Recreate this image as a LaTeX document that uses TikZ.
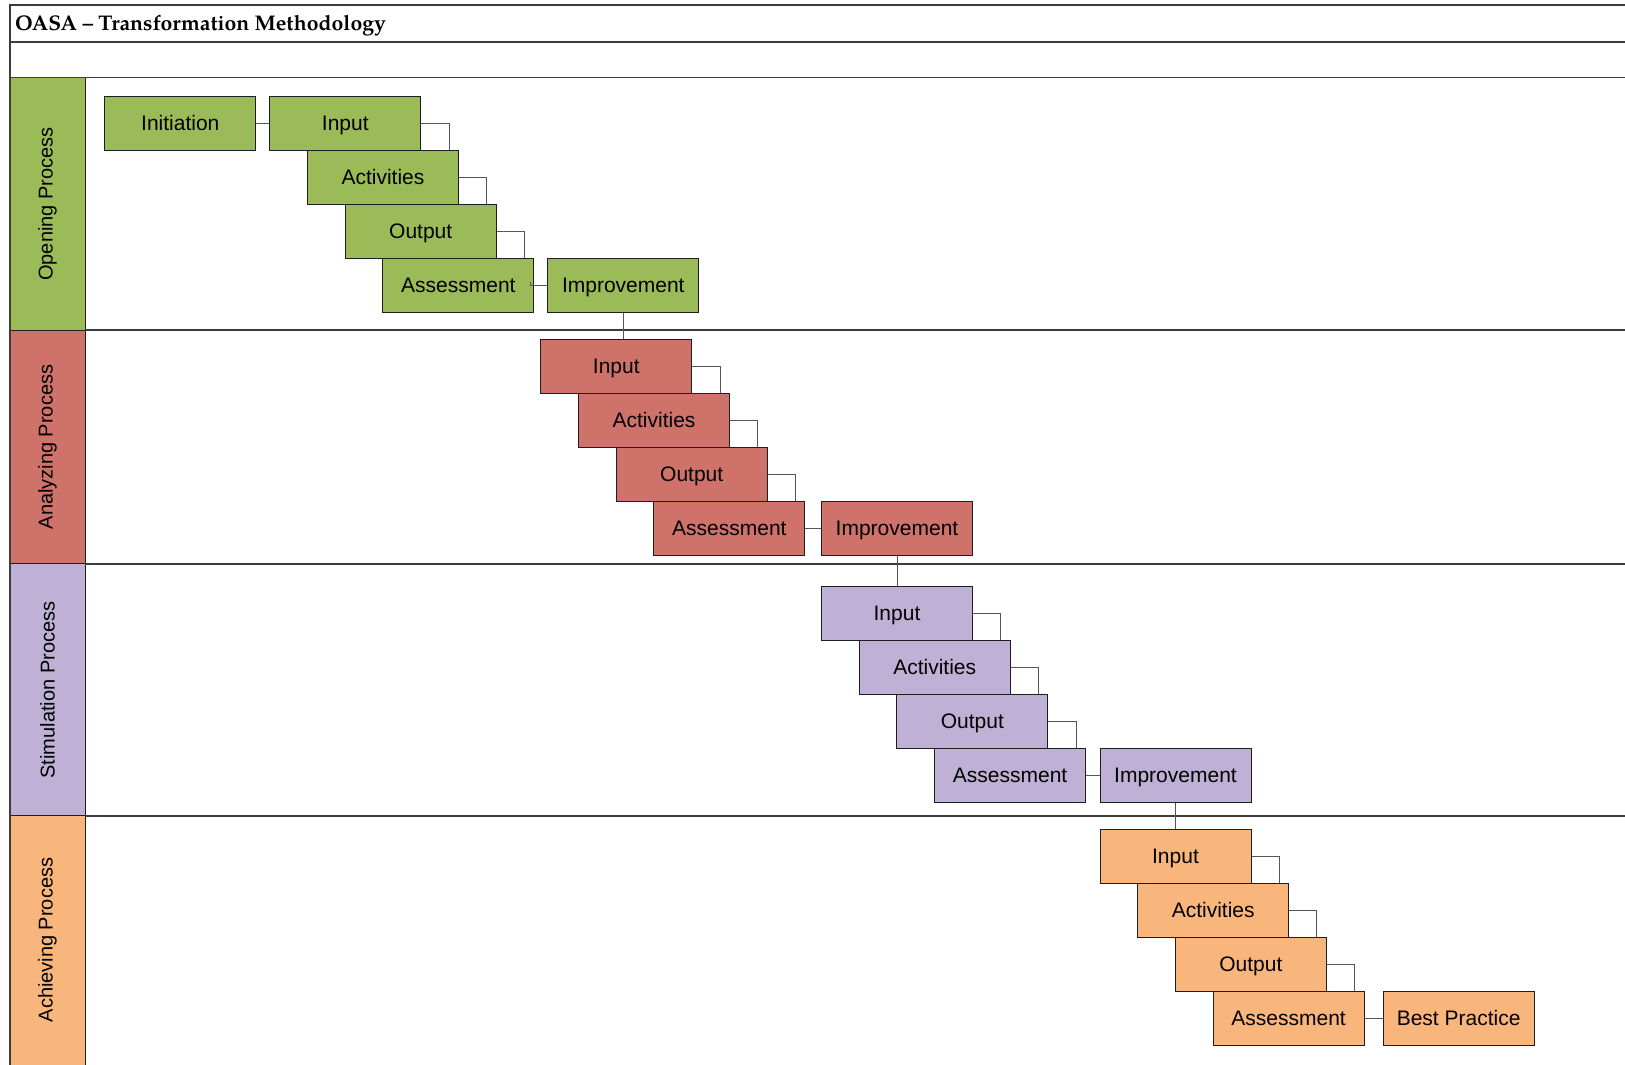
\documentclass[tikz,border=0pt]{standalone}
\usepackage{fontspec}
\setmainfont{Liberation Sans}
\newfontfamily\titlefont{TeX Gyre Pagella}
\usetikzlibrary{calc}

\definecolor{openfill}{RGB}{155,187,89}
\definecolor{analyzefill}{RGB}{206,114,106}
\definecolor{simfill}{RGB}{191,177,213}
\definecolor{achievefill}{RGB}{248,181,124}
\definecolor{frameline}{RGB}{60,60,60}
\definecolor{boxline}{RGB}{30,30,30}
\definecolor{linkgray}{RGB}{85,85,85}

\begin{document}
\begin{tikzpicture}[x=1pt,y=-1pt,
  stage/.style={draw=boxline, line width=1pt, minimum width=151pt,
    minimum height=54pt, anchor=north west, inner sep=0pt,
    text height=17pt, text depth=3.4pt,
    font=\fontsize{21}{24}\selectfont},
  link/.style={draw=linkgray, line width=1pt},
  frame/.style={draw=frameline, line width=1.6pt},
  lanebox/.style={draw=boxline, line width=1pt},
  lanelabel/.style={rotate=90, inner sep=0pt, font=\fontsize{20}{24}\selectfont}]

\useasboundingbox (0,0) rectangle (1625,1065);

% swimlane header column
\fill[openfill]    (10,77.7)  rectangle (85,330);
\fill[analyzefill] (10,330)   rectangle (85,563.7);
\fill[simfill]     (10,563.7) rectangle (85,815.7);
\fill[achievefill] (10,815.7) rectangle (85,1070);
\draw[lanebox] (10,77.7) rectangle (85,330);
\draw[lanebox] (10,330) rectangle (85,563.7);
\draw[lanebox] (10,563.7) rectangle (85,815.7);
\draw[lanebox] (10,815.7) rectangle (85,1070);

% outer frame, title band and lane separators
\draw[frame] (1626,5) -- (10,5) -- (10,1070);
\draw[frame] (10,42) -- (1626,42);
\draw[frame] (10,77.7) -- (1626,77.7);
\draw[frame] (85,330) -- (1626,330);
\draw[frame] (85,563.7) -- (1626,563.7);
\draw[frame] (85,815.7) -- (1626,815.7);

\node[anchor=base west, inner sep=0pt,
  font=\titlefont\bfseries\fontsize{21.2}{24}\selectfont] (title) at (15,30.5)
  {OASA – Transformation Methodology};

\node[lanelabel] (lOpen)    at (47.5,204)   {Opening Process};
\node[lanelabel] (lAnalyze) at (47.5,447)   {Analyzing Process};
\node[lanelabel] (lSim)     at (47.5,690)   {Stimulation Process};
\node[lanelabel] (lAchieve) at (47.5,940)   {Achieving Process};

% Opening process
\node[stage, fill=openfill] (gIni) at (104.3,95.7) {Initiation};
\node[stage, fill=openfill] (gInp) at (269.3,95.7) {Input};
\node[stage, fill=openfill] (gAct) at (307.0,149.7) {Activities};
\node[stage, fill=openfill] (gOut) at (344.7,203.7) {Output};
\node[stage, fill=openfill] (gAss) at (382.4,257.7) {Assessment};
\node[stage, fill=openfill] (gImp) at (547.3,257.7) {Improvement};

% Analyzing process
\node[stage, fill=analyzefill] (rInp) at (540.3,339) {Input};
\node[stage, fill=analyzefill] (rAct) at (578.0,393) {Activities};
\node[stage, fill=analyzefill] (rOut) at (615.7,447) {Output};
\node[stage, fill=analyzefill] (rAss) at (653.4,501) {Assessment};
\node[stage, fill=analyzefill] (rImp) at (821.0,501) {Improvement};

% Stimulation process
\node[stage, fill=simfill] (pInp) at (821.0,586.3) {Input};
\node[stage, fill=simfill] (pAct) at (858.7,640.3) {Activities};
\node[stage, fill=simfill] (pOut) at (896.4,694.3) {Output};
\node[stage, fill=simfill] (pAss) at (934.1,748.3) {Assessment};
\node[stage, fill=simfill] (pImp) at (1099.5,748.3) {Improvement};

% Achieving process
\node[stage, fill=achievefill] (oInp) at (1099.5,829.3) {Input};
\node[stage, fill=achievefill] (oAct) at (1137.2,883.3) {Activities};
\node[stage, fill=achievefill] (oOut) at (1174.9,937.3) {Output};
\node[stage, fill=achievefill] (oAss) at (1212.6,991.3) {Assessment};
\node[stage, fill=achievefill] (oBest) at (1382.6,991.3) {Best Practice};

% connectors
\draw[link] (gIni.east) -- (gInp.west);
\foreach \a/\b in {gInp/gAct, gAct/gOut, gOut/gAss,
                   rInp/rAct, rAct/rOut, rOut/rAss,
                   pInp/pAct, pAct/pOut, pOut/pAss,
                   oInp/oAct, oAct/oOut, oOut/oAss}
  \draw[link] (\a.east) -| ($(\b.north east)+(-10,0)$);
\draw[link] (gImp.west) -- ($(gAss.east)+(-4,0)$) -- ++(0,-3);
\draw[link] (rAss.east) -- (rImp.west);
\draw[link] (pAss.east) -- (pImp.west);
\draw[link] (oAss.east) -- (oBest.west);
\draw[link] (gImp.south) -- (gImp.south |- rInp.north);
\draw[link] (rImp.south) -- (rImp.south |- pInp.north);
\draw[link] (pImp.south) -- (pImp.south |- oInp.north);

\end{tikzpicture}
\end{document}
